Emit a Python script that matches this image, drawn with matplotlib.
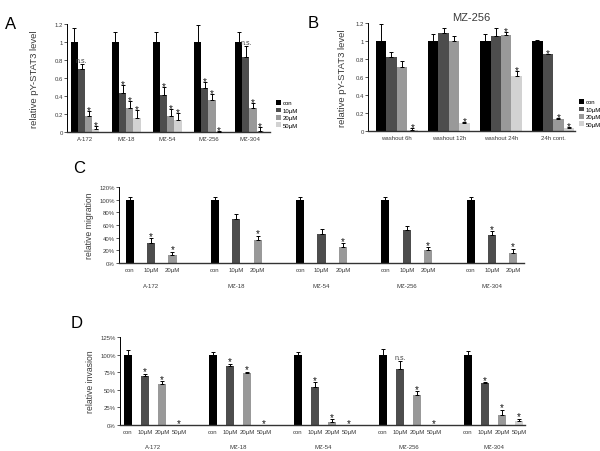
import numpy as np
import matplotlib
matplotlib.use("Agg")
import matplotlib.pyplot as plt
from matplotlib.ticker import FuncFormatter

plt.rcParams['font.family'] = ['Liberation Sans', 'DejaVu Sans']

# ---------------- data ----------------
doses = ["con", "10µM", "20µM", "50µM"]
colors = ["#000000", "#4d4d4d", "#999999", "#d2d2d2"]

# Panel A
a_lines = ["A-172", "MZ-18", "MZ-54", "MZ-256", "MZ-304"]
a_vals = [[1.00, 0.70, 0.18, 0.03],
          [1.00, 0.43, 0.27, 0.16],
          [1.00, 0.41, 0.18, 0.13],
          [1.00, 0.49, 0.36, 0.00],
          [1.00, 0.83, 0.27, 0.01]]
a_errs = [[0.15, 0.05, 0.05, 0.04],
          [0.11, 0.09, 0.07, 0.08],
          [0.11, 0.09, 0.08, 0.08],
          [0.19, 0.06, 0.06, 0.01],
          [0.11, 0.12, 0.05, 0.04]]
a_sig = [["", "n.s.", "*", "*"],
         ["", "*", "*", "*"],
         ["", "*", "*", "*"],
         ["", "*", "*", "*"],
         ["", "n.s.", "*", "*"]]

# Panel B
b_title = "MZ-256"
b_groups = ["washout 6h", "washout 12h", "washout 24h", "24h cont."]
b_vals = [[1.00, 0.82, 0.71, 0.01],
          [1.00, 1.09, 1.00, 0.09],
          [1.00, 1.05, 1.07, 0.61],
          [1.00, 0.85, 0.13, 0.03]]
b_errs = [[0.19, 0.06, 0.07, 0.02],
          [0.08, 0.05, 0.05, 0.01],
          [0.08, 0.09, 0.03, 0.06],
          [0.01, 0.01, 0.01, 0.01]]
b_sig = [["", "", "", "*"],
         ["", "", "", "*"],
         ["", "", "*", "*"],
         ["", "*", "*", "*"]]

# Panel C (relative migration, %)
c_lines = ["A-172", "MZ-18", "MZ-54", "MZ-256", "MZ-304"]
c_doses = ["con", "10µM", "20µM"]
c_vals = [[100, 32, 12],
          [100, 70, 37],
          [100, 45, 26],
          [100, 52, 20],
          [100, 44, 16]]
c_errs = [[4, 7, 6],
          [4, 7, 6],
          [4, 8, 5],
          [4, 7, 5],
          [4, 6, 6]]
c_sig = [["", "*", "*"],
         ["", "", "*"],
         ["", "", "*"],
         ["", "", "*"],
         ["", "*", "*"]]

# Panel D (relative invasion, %)
d_lines = ["A-172", "MZ-18", "MZ-54", "MZ-256", "MZ-304"]
d_doses = ["con", "10µM", "20µM", "50µM"]
d_vals = [[100, 69, 58, 0],
          [100, 84, 74, 0],
          [100, 54, 4, 0],
          [100, 79, 43, 0],
          [100, 59, 14, 6]]
d_errs = [[6, 4, 4, 0],
          [4, 3, 2, 0],
          [3, 7, 4, 0],
          [8, 12, 5, 0],
          [5, 2, 8, 3]]
d_sig = [["", "*", "*", "*"],
         ["", "*", "*", "*"],
         ["", "*", "*", "*"],
         ["", "n.s.", "*", "*"],
         ["", "*", "*", "*"]]

# ---------------- figure ----------------
fig = plt.figure(figsize=(6.0, 4.52), dpi=100)

TICK_FS = 4.3
LBL_FS = 6.2
TXT = "#3a3a3a"


def style_axes(ax):
    for s in ("top", "right"):
        ax.spines[s].set_visible(False)
    ax.spines["left"].set_linewidth(0.7)
    ax.spines["bottom"].set_linewidth(1.0)
    ax.spines["bottom"].set_color("#333333")
    ax.tick_params(axis="y", length=2, width=0.6, labelsize=TICK_FS, pad=1, colors=TXT)
    ax.tick_params(axis="x", length=0, labelsize=TICK_FS, pad=3, colors=TXT)


def sig_text(ax, x, top, s, off):
    if s:
        if s == "*":
            ax.text(x, top + off, s, ha="center", va="bottom", fontsize=7, color="#111111",
                    zorder=4)
        else:
            ax.text(x, top, s, ha="center", va="bottom", fontsize=5, color="#444444")


def grouped(ax, vals, errs, sig, width, off):
    vals = np.array(vals, dtype=float)
    errs = np.array(errs, dtype=float)
    ng, nd = vals.shape
    centers = np.arange(ng)
    for j in range(nd):
        xs = centers + (j - (nd - 1) / 2) * width
        ax.bar(xs, vals[:, j], width=width, color=colors[j], edgecolor="none",
               label=doses[j], zorder=2)
        ax.errorbar(xs, vals[:, j], yerr=[np.zeros(ng), errs[:, j]], fmt="none",
                    ecolor="black", elinewidth=0.7, capsize=1.5, capthick=0.7, zorder=3)
        for i in range(ng):
            sig_text(ax, xs[i], vals[i, j] + errs[i, j], sig[i][j], off)
    return centers


def fmt_num(v, pos):
    if abs(v - round(v)) < 1e-9:
        return "%d" % round(v)
    return ("%.1f" % v)


# Panel A
axA = fig.add_axes([0.1117, 0.7058, 0.3383, 0.2389])
cA = grouped(axA, a_vals, a_errs, a_sig, 0.175, -0.045)
axA.set_ylim(0, 1.2)
axA.set_xlim(-0.44, 4.5)
axA.set_yticks(np.arange(0, 1.21, 0.2))
axA.yaxis.set_major_formatter(FuncFormatter(fmt_num))
axA.set_xticks(cA)
axA.set_xticklabels(a_lines)
axA.set_ylabel("relative pY-STAT3 level", fontsize=LBL_FS + 0.6, labelpad=11, color=TXT)
style_axes(axA)
axA.legend(loc="lower left", bbox_to_anchor=(1.01, 0.0), frameon=False, fontsize=TICK_FS,
           handlelength=0.8, handleheight=0.8, handletextpad=0.3, labelspacing=0.35,
           borderpad=0.2)
fig.text(0.008, 0.945, "A", fontsize=12, va="center", ha="left")

# Panel B
axB = fig.add_axes([0.6133, 0.708, 0.345, 0.239])
cB = grouped(axB, b_vals, b_errs, b_sig, 0.2, -0.045)
axB.set_ylim(0, 1.2)
axB.set_xlim(-0.55, 3.42)
axB.set_yticks(np.arange(0, 1.21, 0.2))
axB.yaxis.set_major_formatter(FuncFormatter(fmt_num))
axB.set_xticks(cB)
axB.set_xticklabels(b_groups)
axB.set_ylabel("relative pY-STAT3 level", fontsize=LBL_FS + 0.6, labelpad=6, color=TXT)
axB.set_title(b_title, fontsize=8, pad=2, color=TXT)
style_axes(axB)
axB.legend(loc="lower left", bbox_to_anchor=(1.0, 0.0), frameon=False, fontsize=TICK_FS,
           handlelength=0.8, handleheight=0.8, handletextpad=0.3, labelspacing=0.35,
           borderpad=0.2)
fig.text(0.512, 0.948, "B", fontsize=12, va="center", ha="left")


def spaced(ax, vals, errs, sig, step, width, dose_labels, group_labels, off, glabel_y):
    vals = np.array(vals, dtype=float)
    errs = np.array(errs, dtype=float)
    ng, nd = vals.shape
    xt, xl = [], []
    for i in range(ng):
        for j in range(nd):
            x = i * step + j
            xt.append(x)
            xl.append(dose_labels[j])
            if vals[i, j] > 0:
                ax.bar(x, vals[i, j], width=width, color=colors[j], edgecolor="none", zorder=2)
                ax.errorbar(x, vals[i, j], yerr=[[0], [errs[i, j]]], fmt="none",
                            ecolor="black", elinewidth=0.7, capsize=1.3, capthick=0.7, zorder=3)
            sig_text(ax, x, vals[i, j] + errs[i, j], sig[i][j], off)
        ax.text(i * step + (nd - 1) / 2, glabel_y, group_labels[i], ha="center", va="center",
                fontsize=TICK_FS, color=TXT, transform=ax.get_xaxis_transform())
    ax.set_xticks(xt)
    ax.set_xticklabels(xl)


# Panel C
axC = fig.add_axes([0.198, 0.416, 0.675, 0.168])
spaced(axC, c_vals, c_errs, c_sig, 4, 0.38, c_doses, c_lines, -4, -0.3)
axC.set_ylim(0, 120)
axC.set_xlim(-0.52, 18.5)
axC.set_yticks(np.arange(0, 121, 20))
axC.yaxis.set_major_formatter(FuncFormatter(lambda v, p: "%d%%" % v))
axC.set_ylabel("relative migration", fontsize=LBL_FS, labelpad=4, color=TXT)
style_axes(axC)
fig.text(0.122, 0.628, "C", fontsize=12, va="center", ha="left")

# Panel D
axD = fig.add_axes([0.2, 0.0575, 0.675, 0.1947])
spaced(axD, d_vals, d_errs, d_sig, 5, 0.42, d_doses, d_lines, -4, -0.24)
axD.set_ylim(0, 125)
axD.set_xlim(-0.47, 23.35)
axD.set_yticks(np.arange(0, 126, 25))
axD.yaxis.set_major_formatter(FuncFormatter(lambda v, p: "%d%%" % v))
axD.set_ylabel("relative invasion", fontsize=LBL_FS, labelpad=4, color=TXT)
style_axes(axD)
fig.text(0.118, 0.285, "D", fontsize=12, va="center", ha="left")

fig.savefig("out.png", dpi=100)
